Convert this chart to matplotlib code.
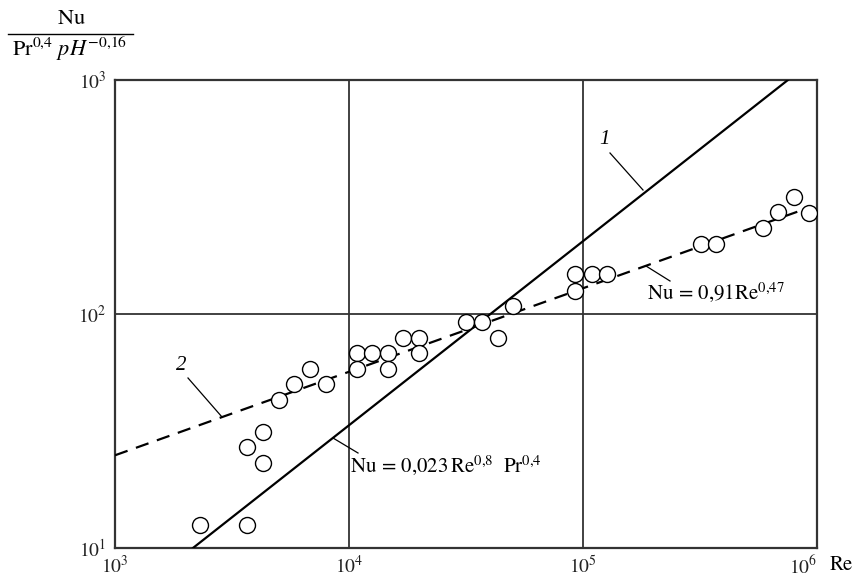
import matplotlib
matplotlib.use("Agg")
import matplotlib.pyplot as plt
from matplotlib.ticker import FixedLocator, NullLocator, FixedFormatter
from matplotlib.lines import Line2D

plt.rcParams['mathtext.fontset'] = 'stix'
plt.rcParams['font.family'] = ['Liberation Serif', 'DejaVu Serif']

# Data points (Re, Nu / (Pr^0.4 pH^-0.16))
re_points = [2310, 3670, 3670, 4290, 4290, 5020, 5820, 6810, 7980,
             10800, 10800, 12500, 14700, 14700, 17000, 19900, 19900,
             31600, 37000, 43300, 50200,
             92400, 92400, 109000, 127000, 319000, 370000,
             588000, 681000, 797000, 924000]
nu_points = [12.5, 12.5, 27.0, 31.3, 23.1, 42.9, 50.2, 58.2, 50.2,
             68.1, 58.2, 68.1, 68.1, 58.2, 78.9, 78.9, 68.1,
             92.4, 92.4, 78.9, 108,
             125, 148, 148, 148, 199, 199,
             233, 273, 316, 270]

# Line 1 (solid): Nu = 0,023 Re^0.8 Pr^0.4
line1_re = [2154, 751000]
line1_nu = [10, 1000]
# Line 2 (dashed): Nu = 0,91 Re^0.47
line2_re = [1000, 889000]
line2_nu = [24.9, 281]

x_ticks = [1e3, 1e4, 1e5, 1e6]
x_labels = [r'$10^3$', r'$10^4$', r'$10^5$', r'$10^6$']
y_ticks = [1e1, 1e2, 1e3]
y_labels = [r'$10^1$', r'$10^2$', r'$10^3$']

W, H = 858, 581
fig = plt.figure(figsize=(W / 100, H / 100), dpi=100)
ax = fig.add_axes([115 / W, 1 - 548 / H, (817 - 115) / W, (548 - 80) / H])
ax.set_xscale('log')
ax.set_yscale('log')
ax.set_xlim(1e3, 1e6)
ax.set_ylim(1e1, 1e3)

gc = '#333333'
for v in x_ticks[1:-1]:
    ax.axvline(v, color=gc, lw=1.3, zorder=1)
for v in y_ticks[1:-1]:
    ax.axhline(v, color=gc, lw=1.3, zorder=1)
for s in ax.spines.values():
    s.set_color(gc)
    s.set_linewidth(1.6)

ax.xaxis.set_major_locator(FixedLocator(x_ticks))
ax.xaxis.set_major_formatter(FixedFormatter(x_labels))
ax.yaxis.set_major_locator(FixedLocator(y_ticks))
ax.yaxis.set_major_formatter(FixedFormatter(y_labels))
ax.xaxis.set_minor_locator(NullLocator())
ax.yaxis.set_minor_locator(NullLocator())
ax.tick_params(length=0, labelsize=14, colors='#222222')
ax.tick_params(axis='x', pad=5)
ax.tick_params(axis='y', pad=6)
xtl = ax.get_xticklabels()
xtl[-1].set_horizontalalignment('right')

ax.plot(line1_re, line1_nu, color='black', lw=1.6, zorder=3)
ax.plot(line2_re, line2_nu, color='black', lw=1.6, ls=(0, (6, 4)), zorder=3)
ax.plot(re_points, nu_points, ls='none', marker='o', markersize=11.5,
        markerfacecolor='white', markeredgecolor='black', markeredgewidth=1.0, zorder=4)

def px(x, y):
    return (x / W, 1 - y / H)

# annotation leaders (figure pixel coords)
def leader(x0, y0, x1, y1):
    fig.add_artist(Line2D([x0 / W, x1 / W], [1 - y0 / H, 1 - y1 / H],
                          color='black', lw=0.9, transform=fig.transFigure))

leader(610, 153, 643, 190)
fig.text(*px(605, 140), '1', style='italic', fontsize=15, ha='center', va='center')
leader(188, 378, 222, 417)
fig.text(*px(181, 365), '2', style='italic', fontsize=15, ha='center', va='center')
leader(646, 266, 670, 281)
fig.text(*px(647, 292), r'$\mathrm{Nu}\,=\,0{,}91\mathrm{Re}^{0{,}47}$', fontsize=15,
         ha='left', va='center')
leader(333, 438, 358, 453)
fig.text(*px(350, 465), r'$\mathrm{Nu}\,=\,0{,}023\,\mathrm{Re}^{0{,}8}\ \ \mathrm{Pr}^{0{,}4}$', fontsize=15,
         ha='left', va='center')

# y label fraction
fig.text(*px(71, 19), r'$\mathrm{Nu}$', fontsize=16, ha='center', va='center')
fig.add_artist(Line2D([8 / W, 133 / W], [1 - 34 / H, 1 - 34 / H], color='black', lw=1.0,
                      transform=fig.transFigure))
fig.text(*px(70, 49), r'$\mathrm{Pr}^{0{,}4}\ pH^{-0{,}16}$', fontsize=16, ha='center', va='center')

# x label
fig.text(*px(841, 566), r'$\mathrm{Re}$', fontsize=15, ha='center', va='center')

fig.savefig('out.png', dpi=100)
